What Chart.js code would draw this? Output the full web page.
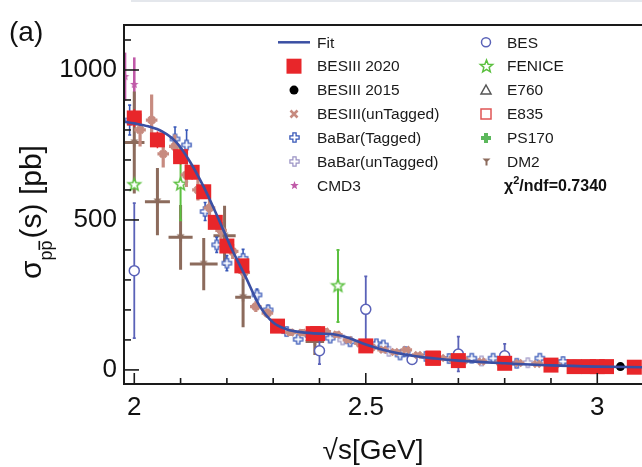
<!DOCTYPE html>
<html><head><meta charset="utf-8">
<script src="https://cdn.jsdelivr.net/npm/chart.js@4/dist/chart.umd.min.js"></script>
<style>html,body{margin:0;padding:0;background:#fff}#wrap{width:642px;height:467px;position:relative;overflow:hidden}</style>
</head><body><div id="wrap"><canvas id="c" width="642" height="467"></canvas></div>
<script>
// ---------------- data ----------------
const xTicks = [2, 2.5, 3];
const yTicks = [0, 500, 1000];

const fitX = [1.978, 2.0, 2.03, 2.06, 2.09, 2.12, 2.15, 2.18, 2.21, 2.24, 2.27, 2.30, 2.33, 2.36, 2.40, 2.43, 2.46, 2.50, 2.55, 2.60, 2.65, 2.70, 2.80, 2.90, 3.00, 3.097];
const fitY = [828, 822, 812, 795, 760, 695, 610, 510, 405, 312, 215, 158, 135, 126, 121, 119, 108, 85, 62, 47, 38, 31, 22, 15, 11, 9];

const bes2020X = [2.0, 2.05, 2.1, 2.125, 2.15, 2.175, 2.2, 2.2324, 2.3094, 2.3864, 2.396, 2.5, 2.6444, 2.6464, 2.7, 2.8, 2.9, 2.95, 2.981, 3.0, 3.02, 3.08];
const bes2020Y = [840, 767, 711, 659, 594, 492, 413, 347, 146, 121, 121, 80, 39, 39, 31, 22, 16, 11, 11, 11, 11, 9];
const bes2020E = [30, 28, 26, 24, 22, 20, 18, 16, 9, 7, 7, 5, 3, 3, 3, 2, 2, 2, 2, 2, 2, 2];

const bes2015X = [2.2324, 2.4, 2.8, 3.05, 3.08];
const bes2015Y = [350, 120, 22, 11, 9.5];

const untagX = [2.0125, 2.0375, 2.0625, 2.0875, 2.1125, 2.1375, 2.1625, 2.1875, 2.2125, 2.2375, 2.2625, 2.2875, 2.3125, 2.3375, 2.3625, 2.3875, 2.4125, 2.4375, 2.4625, 2.4875, 2.5125, 2.5375, 2.5625, 2.5875, 2.6125, 2.6375, 2.6625, 2.6875, 2.7125, 2.75, 2.79, 2.83, 2.87, 2.91, 2.95, 2.99];
const untagY = [800, 833, 720, 745, 650, 600, 540, 465, 395, 325, 211, 189, 150, 125, 124, 122, 128, 118, 100, 88, 75, 67, 60, 67, 50, 42, 40, 36, 32, 28, 25, 23, 20, 18, 16, 13];
const untagE = [55, 85, 45, 40, 40, 35, 30, 28, 25, 22, 18, 16, 14, 12, 12, 12, 12, 11, 10, 10, 9, 9, 8, 8, 7, 7, 6, 6, 6, 5, 5, 5, 4, 4, 4, 4];

const babarTX = [1.99, 2.088, 2.113, 2.153, 2.178, 2.2, 2.235, 2.265, 2.289, 2.329, 2.354, 2.38, 2.423, 2.466, 2.523, 2.538, 2.574, 2.585, 2.63, 2.68, 2.729, 2.775, 2.826, 2.876, 2.926, 2.975];
const babarTY = [833, 770, 750, 528, 417, 356, 372, 250, 200, 128, 102, 115, 106, 94, 87, 83, 50, 61, 45, 38, 39, 39, 22, 39, 28, 15];
const babarTE = [50, 40, 50, 30, 25, 25, 30, 20, 15, 12, 10, 10, 10, 10, 10, 10, 8, 8, 7, 7, 7, 7, 6, 6, 6, 5];

const babarUX = [2.45, 2.55, 2.65, 2.75, 2.85, 2.95];
const babarUY = [100, 62, 40, 30, 24, 16];
const babarUE = [10, 8, 7, 6, 5, 4];

const cmd3X = [1.98, 2.0];
const cmd3Y = [978, 952];
const cmd3E = [80, 90];

const besX = [2.0, 2.4, 2.5, 2.6, 2.7, 2.8];
const besY = [331, 64, 202, 35, 53, 47];
const besE = [225, 45, 110, 12, 58, 40];

const feniceX = [2.0, 2.1, 2.44];
const feniceY = [617, 619, 280];
const feniceE = [0, 120, 120];

const e760X = [], e760Y = [];
const e835X = [], e835Y = [];
const ps170X = [], ps170Y = [];

const dm2X = [2.0, 2.05, 2.1, 2.15, 2.195, 2.235, 2.39];
const dm2Y = [758, 561, 442, 353, 447, 242, 95];
const dm2E = [170, 112, 108, 87, 100, 100, 45];
const dm2XE = [0.022, 0.027, 0.026, 0.03, 0.024, 0.017, 0.02];

const chi2Text = '/ndf=0.7340';

// ---------------- styles ----------------
const FONT = '"Liberation Sans", Arial, Helvetica, sans-serif';
const RED = '#e8262a', FITBLUE = '#3a4fa3', PINK = '#c78b80', BLUE = '#3858b8', PURPLE = '#9a92c4',
      MAG = '#c05aa8', BESC = '#5a62b8', GREEN = '#5cc040', BROWN = '#8c6b5c', GRAY = '#555555';

function mk(size, draw){ const c=document.createElement('canvas'); c.width=size; c.height=size; const g=c.getContext('2d'); draw(g,size/2); return c; }
function crossPath(g,cx,cy,L,W){
  g.beginPath();
  g.moveTo(cx-W,cy-L); g.lineTo(cx+W,cy-L); g.lineTo(cx+W,cy-W); g.lineTo(cx+L,cy-W); g.lineTo(cx+L,cy+W); g.lineTo(cx+W,cy+W);
  g.lineTo(cx+W,cy+L); g.lineTo(cx-W,cy+L); g.lineTo(cx-W,cy+W); g.lineTo(cx-L,cy+W); g.lineTo(cx-L,cy-W); g.lineTo(cx-W,cy-W); g.closePath();
}
function starPath(g,cx,cy,R,r){ g.beginPath(); for(let i=0;i<10;i++){const a=-Math.PI/2+i*Math.PI/5; const rr=i%2?r:R; g.lineTo(cx+rr*Math.cos(a), cy+rr*Math.sin(a));} g.closePath(); }

const imgBabarT = mk(13,(g,c)=>{crossPath(g,c,c,4.6,1.6); g.fillStyle='#fff'; g.fill(); g.lineWidth=1.3; g.strokeStyle=BLUE; g.stroke();});
const imgBabarU = mk(13,(g,c)=>{crossPath(g,c,c,4.6,1.6); g.fillStyle='#fff'; g.fill(); g.lineWidth=1.2; g.strokeStyle=PURPLE; g.stroke();});
const imgCMD3 = mk(11,(g,c)=>{starPath(g,c,c,4.5,1.9); g.fillStyle=MAG; g.fill();});
const imgFen = mk(17,(g,c)=>{starPath(g,c,c,6.5,2.8); g.fillStyle='#fff'; g.fill(); g.lineWidth=1.5; g.strokeStyle=GREEN; g.stroke();});
const imgDM2 = mk(11,(g,c)=>{g.fillStyle=BROWN; g.beginPath(); g.moveTo(c-4,c-3); g.lineTo(c+4,c-3); g.lineTo(c,c+1); g.closePath(); g.fill(); g.fillRect(c-1,c,2,4);});
const imgE760 = mk(14,(g,c)=>{g.beginPath(); g.moveTo(c,c-5); g.lineTo(c+5,c+4); g.lineTo(c-5,c+4); g.closePath(); g.lineWidth=1.5; g.strokeStyle=GRAY; g.stroke();});
const imgE835 = mk(14,(g,c)=>{g.lineWidth=1.5; g.strokeStyle='#e05555'; g.strokeRect(c-5,c-5,10,10);});
const imgPS170 = mk(12,(g,c)=>{crossPath(g,c,c,5,2); g.fillStyle='#5cb85c'; g.fill();});

function pts(xs, ys){ return xs.map((x,i)=>({x:x, y:ys[i]})); }

// ---------------- plugins ----------------
const errPlugin = {
  id:'errbars',
  beforeDatasetDraw(chart, args){
    const ds = chart.data.datasets[args.index];
    if(!ds.yErr && !ds.xErr) return;
    const xs = chart.scales.x, ys = chart.scales.y, ctx = chart.ctx, a = chart.chartArea;
    ctx.save();
    ctx.beginPath(); ctx.rect(a.left, a.top, a.right-a.left, a.bottom-a.top); ctx.clip();
    ctx.strokeStyle = ds.errColor; ctx.lineWidth = ds.errWidth || 1.5; ctx.lineCap='butt';
    ds.data.forEach((p,i)=>{
      const px = xs.getPixelForValue(p.x), py = ys.getPixelForValue(p.y);
      const ye = ds.yErr ? ds.yErr[i] : 0, xe = ds.xErr ? (Array.isArray(ds.xErr)? ds.xErr[i] : ds.xErr) : 0;
      ctx.beginPath();
      if (ye) {
        const y1 = ys.getPixelForValue(p.y-ye), y2 = ys.getPixelForValue(p.y+ye);
        ctx.moveTo(px, y1); ctx.lineTo(px, y2);
        if (ds.cap) { ctx.moveTo(px-ds.cap, y1); ctx.lineTo(px+ds.cap, y1); ctx.moveTo(px-ds.cap, y2); ctx.lineTo(px+ds.cap, y2); }
      }
      if (xe) { ctx.moveTo(xs.getPixelForValue(p.x-xe), py); ctx.lineTo(xs.getPixelForValue(p.x+xe), py); }
      ctx.stroke();
    });
    ctx.restore();
  }
};

const framePlugin = {
  id:'frame',
  afterDraw(chart){
    const ctx = chart.ctx, a = chart.chartArea, xs = chart.scales.x, ys = chart.scales.y;
    ctx.save();
    ctx.strokeStyle='#e4e7ec'; ctx.lineWidth=2; ctx.beginPath(); ctx.moveTo(131,1); ctx.lineTo(642,1); ctx.stroke();
    ctx.strokeStyle='#1a1a1a'; ctx.lineWidth=1.6;
    for(let v=0; v<=1100; v+=100){
      const y = ys.getPixelForValue(v); const L = (v%500===0)?15:7;
      ctx.beginPath(); ctx.moveTo(a.left, y); ctx.lineTo(a.left+L, y); ctx.stroke();
    }
    for(let k=20; k<=30; k++){
      const v = k/10; const x = xs.getPixelForValue(v); const L = (k%5===0)?11:6;
      ctx.beginPath(); ctx.moveTo(x, a.bottom); ctx.lineTo(x, a.bottom-L); ctx.stroke();
    }
    ctx.lineWidth=2;
    ctx.beginPath(); ctx.moveTo(a.right+2, a.top); ctx.lineTo(a.left, a.top); ctx.lineTo(a.left, a.bottom); ctx.lineTo(a.right+2, a.bottom); ctx.stroke();
    ctx.restore();

    ctx.save();
    ctx.fillStyle='#111';
    ctx.font = '28px '+FONT; ctx.textBaseline='alphabetic'; ctx.textAlign='left';
    ctx.fillText('(a)', 9, 41);
    ctx.textAlign='center';
    ctx.fillText('\u221As[GeV]', 373, 459);
    ctx.translate(31, 212); ctx.rotate(-Math.PI/2);
    const big='30px '+FONT, small='18px '+FONT;
    ctx.textAlign='left';
    ctx.font=big; const wS=ctx.measureText('\u03C3').width, wR=ctx.measureText('(s) [pb]').width;
    ctx.font=small; const wP=ctx.measureText('pp').width, wp1=ctx.measureText('p').width;
    const total = wS+wP+2+wR; let x=-total/2; const base=10;
    ctx.font=big; ctx.fillText('\u03C3', x, base); x+=wS;
    ctx.font=small; ctx.fillText('pp', x, base+11);
    ctx.fillRect(x+wp1+0.5, base+11-13.5, wp1-1, 1.6);
    x+=wP+2;
    ctx.font=big; ctx.fillText('(s) [pb]', x, base);
    ctx.restore();

    ctx.save();
    const rows = [42.3, 66.2, 90.1, 114, 137.9, 161.8, 185.7];
    const c1m=294, c1t=317, c2m=486, c2t=507;
    ctx.font='15.5px '+FONT; ctx.fillStyle='#1a1a1a'; ctx.textBaseline='middle'; ctx.textAlign='left';
    const L1=['Fit','BESIII 2020','BESIII 2015','BESIII(unTagged)','BaBar(Tagged)','BaBar(unTagged)','CMD3'];
    const L2=['BES','FENICE','E760','E835','PS170','DM2'];
    L1.forEach((t,i)=>ctx.fillText(t, c1t, rows[i]+1));
    L2.forEach((t,i)=>ctx.fillText(t, c2t, rows[i]+1));
    ctx.strokeStyle=FITBLUE; ctx.lineWidth=2.5; ctx.beginPath(); ctx.moveTo(278,rows[0]); ctx.lineTo(310,rows[0]); ctx.stroke();
    ctx.fillStyle=RED; ctx.fillRect(c1m-7.5, rows[1]-7.5, 15, 15);
    ctx.fillStyle='#000'; ctx.beginPath(); ctx.arc(c1m, rows[2], 4.5, 0, 2*Math.PI); ctx.fill();
    ctx.strokeStyle=PINK; ctx.lineWidth=2.6; ctx.beginPath(); ctx.moveTo(c1m-3.5,rows[3]-3.5); ctx.lineTo(c1m+3.5,rows[3]+3.5); ctx.moveTo(c1m+3.5,rows[3]-3.5); ctx.lineTo(c1m-3.5,rows[3]+3.5); ctx.stroke();
    const di=(img,x,y)=>ctx.drawImage(img, Math.round(x-img.width/2), Math.round(y-img.height/2));
    di(imgBabarT, c1m, rows[4]); di(imgBabarU, c1m, rows[5]); di(imgCMD3, c1m, rows[6]);
    ctx.strokeStyle=BESC; ctx.lineWidth=1.5; ctx.beginPath(); ctx.arc(c2m, rows[0], 4.5, 0, 2*Math.PI); ctx.stroke();
    di(imgFen, c2m, rows[1]); di(imgE760, c2m, rows[2]); di(imgE835, c2m, rows[3]); di(imgPS170, c2m, rows[4]); di(imgDM2, c2m, rows[5]);
    ctx.fillStyle='#111';
    ctx.font='bold 16px '+FONT; ctx.fillText('\u03C7', c2t-3, rows[6]+1);
    const wc=ctx.measureText('\u03C7').width;
    ctx.font='bold 11px '+FONT; ctx.fillText('2', c2t-3+wc, rows[6]-5);
    const w2=ctx.measureText('2').width;
    ctx.font='bold 16px '+FONT; ctx.fillText(chi2Text, c2t-3+wc+w2, rows[6]+1);
    ctx.restore();
  }
};

// ---------------- chart ----------------
// lower index = drawn on top
const datasets = [
  {label:'Fit', type:'line', data:pts(fitX,fitY), borderColor:FITBLUE, borderWidth:2.6, pointRadius:0, showLine:true, fill:false, cubicInterpolationMode:'monotone'},
  {label:'BESIII 2020', data:pts(bes2020X,bes2020Y), yErr:bes2020E, errColor:RED, errWidth:1.5, pointStyle:'rect', pointRadius:10.6, backgroundColor:RED, borderWidth:0},
  {label:'BESIII 2015', data:pts(bes2015X,bes2015Y), pointStyle:'circle', pointRadius:4.5, backgroundColor:'#000', borderWidth:0},
  {label:'BESIII(unTagged)', data:pts(untagX,untagY), yErr:untagE, xErr:0.0125, errColor:PINK, errWidth:3.2, pointStyle:'crossRot', pointRadius:4.5, borderColor:PINK, borderWidth:3},
  {label:'BaBar(Tagged)', data:pts(babarTX,babarTY), yErr:babarTE, errColor:BLUE, errWidth:1.6, cap:1.5, pointStyle:imgBabarT, pointRadius:5},
  {label:'BaBar(unTagged)', data:pts(babarUX,babarUY), yErr:babarUE, errColor:PURPLE, errWidth:1.4, pointStyle:imgBabarU, pointRadius:5},
  {label:'BES', data:pts(besX,besY), yErr:besE, errColor:BESC, errWidth:1.8, cap:1.5, pointStyle:'circle', pointRadius:5, backgroundColor:'#fff', borderColor:BESC, borderWidth:1.5},
  {label:'FENICE', data:pts(feniceX,feniceY), yErr:feniceE, errColor:GREEN, errWidth:2, cap:1.5, pointStyle:imgFen, pointRadius:5},
  {label:'E760', data:pts(e760X,e760Y), pointStyle:imgE760, pointRadius:5},
  {label:'E835', data:pts(e835X,e835Y), pointStyle:imgE835, pointRadius:5},
  {label:'PS170', data:pts(ps170X,ps170Y), pointStyle:imgPS170, pointRadius:5},
  {label:'DM2', data:pts(dm2X,dm2Y), yErr:dm2E, xErr:dm2XE, errColor:BROWN, errWidth:3, pointStyle:imgDM2, pointRadius:5},
  {label:'CMD3', data:pts(cmd3X,cmd3Y), yErr:cmd3E, errColor:MAG, errWidth:2.6, pointStyle:imgCMD3, pointRadius:5}
];

new Chart(document.getElementById('c'), {
  type:'scatter',
  data:{datasets},
  options:{
    responsive:false, animation:false, devicePixelRatio:1,
    layout:{autoPadding:false, padding:{top:25, left:0, right:0, bottom:0}},
    plugins:{legend:{display:false}, tooltip:{enabled:false}},
    scales:{
      x:{type:'linear', min:1.9778, max:3.0966,
         grid:{display:false, drawTicks:false}, border:{display:false},
         ticks:{font:{size:26, family:FONT}, color:'#111', padding:8, maxRotation:0, autoSkip:false, callback:v=>String(v)},
         afterBuildTicks:s=>{s.ticks = xTicks.map(v=>({value:v}));},
         afterFit:s=>{s.height = 83;}},
      y:{type:'linear', min:-47, max:1150,
         grid:{display:false, drawTicks:false}, border:{display:false},
         ticks:{font:{size:26, family:FONT}, color:'#111', padding:7, autoSkip:false, callback:v=>String(v)},
         afterBuildTicks:s=>{s.ticks = yTicks.map(v=>({value:v}));},
         afterFit:s=>{s.width = 124;}}
    }
  },
  plugins:[errPlugin, framePlugin]
});
</script>
</body></html>
